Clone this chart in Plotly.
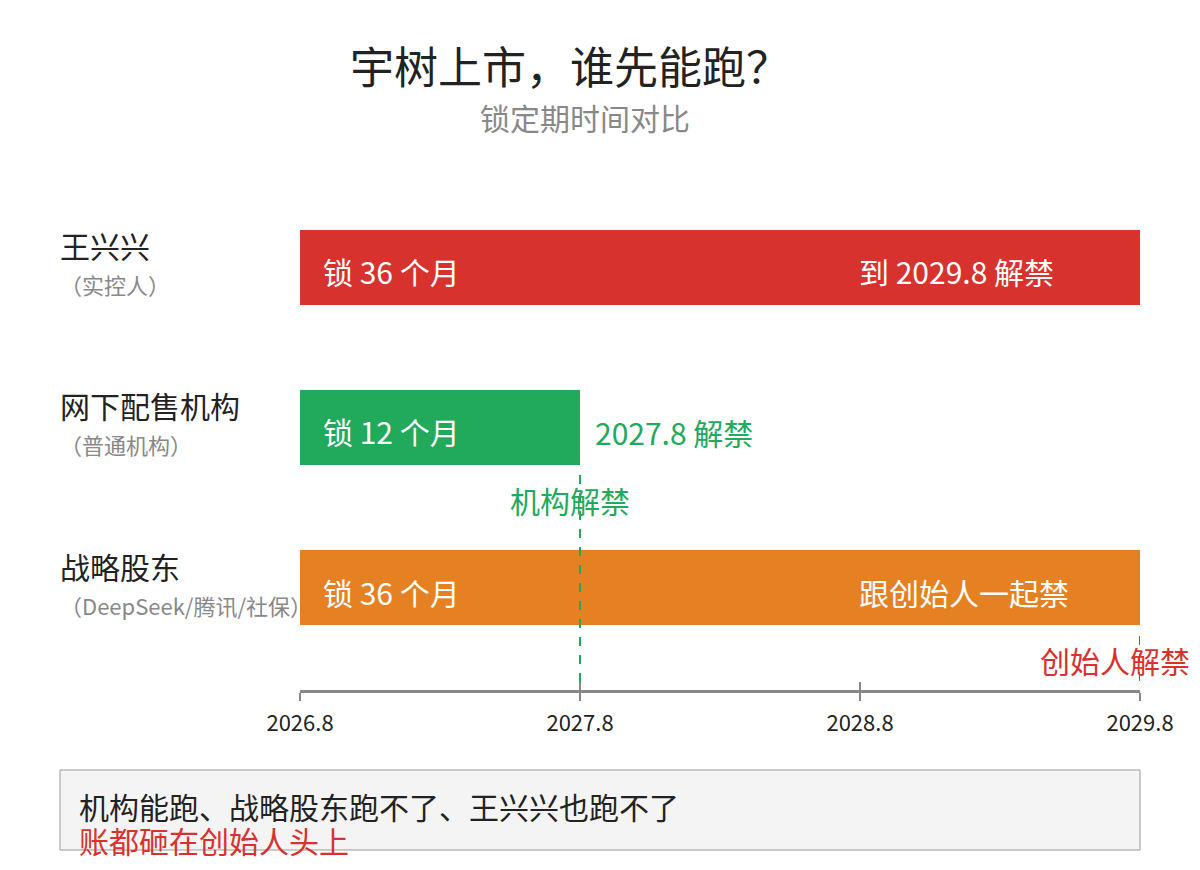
import plotly.graph_objects as go

# ---- data ----
groups = ["王兴兴", "网下配售机构", "战略股东"]
group_notes = ["（实控人）", "（普通机构）", "（DeepSeek/腾讯/社保）"]
lock_months = [36, 12, 36]
bar_left_text = ["锁 36 个月", "锁 12 个月", "锁 36 个月"]
bar_right_text = ["到 2029.8 解禁", "2027.8 解禁", "跟创始人一起禁"]
bar_colors = ["#d7322d", "#21a95c", "#e58123"]
tick_vals = [0, 12, 24, 36]
tick_text = ["2026.8", "2027.8", "2028.8", "2029.8"]
marker_months = [12, 36]
marker_labels = ["机构解禁", "创始人解禁"]
marker_colors = ["#21a95c", "#d7322d"]
title = "宇树上市，谁先能跑？"
subtitle = "锁定期时间对比"
note_line1 = "机构能跑、战略股东跑不了、王兴兴也跑不了"
note_line2 = "账都砸在创始人头上"

FONT = "Noto Sans CJK SC"
OFF = 8            # page body margin
W, H = 1200 - 2 * OFF, 870 - 2 * OFF


def px(x):
    return (x - OFF) / W


def py(y):
    return 1 - (y - OFF) / H


ys = list(range(len(groups)))

fig = go.Figure()
fig.add_trace(go.Bar(
    x=lock_months, y=ys, base=0, orientation="h",
    marker=dict(color=bar_colors, line=dict(width=0)),
    width=0.47, hoverinfo="skip", showlegend=False,
))
fig.add_trace(go.Scatter(x=[0, 36], y=[0, 0], xaxis="x2", mode="markers",
                         marker=dict(opacity=0), hoverinfo="skip", showlegend=False))

ann = []
shapes = []


def A(**kw):
    kw.setdefault("xanchor", "center")
    kw.setdefault("yanchor", "middle")
    kw.setdefault("showarrow", False)
    ann.append(kw)


A(text=title, x=px(570), y=py(65), xref="paper", yref="paper",
  font=dict(size=44, color="#222222", family=FONT))
A(text=subtitle, x=px(585), y=py(117), xref="paper", yref="paper",
  font=dict(size=30, color="#888888", family=FONT))

for i, g in enumerate(groups):
    A(text=g, x=px(58), xref="paper", y=i, yref="y", yshift=22, xanchor="left",
      font=dict(size=30, color="#222222", family=FONT))
    A(text=group_notes[i], x=px(58), xref="paper", y=i, yref="y", yshift=-17, xanchor="left",
      font=dict(size=22, color="#888888", family=FONT))
    A(text=bar_left_text[i], x=0, xref="x", y=i, yref="y", xshift=21, yshift=-4, xanchor="left",
      font=dict(size=30, color="#ffffff", family=FONT))
    if lock_months[i] >= 24:
        A(text=bar_right_text[i], x=24, xref="x", y=i, yref="y", xshift=-3, yshift=-4,
          xanchor="left", font=dict(size=30, color="#ffffff", family=FONT))
    else:
        A(text=bar_right_text[i], x=lock_months[i], xref="x", y=i, yref="y",
          xshift=13, yshift=-5, xanchor="left",
          font=dict(size=30, color=bar_colors[i], family=FONT))

line_tops = [475, 636]
label_ys = [500, 660]
label_shift = [-10, -25]
for m, lab, col, top, ly, sh in zip(marker_months, marker_labels, marker_colors,
                                    line_tops, label_ys, label_shift):
    shapes.append(dict(type="line", xref="x", yref="paper", x0=m, x1=m,
                       y0=py(top), y1=py(690), line=dict(color=col, width=2, dash="dash"),
                       layer="above"))
    A(text=lab, x=m, xref="x", y=py(ly), yref="paper", xshift=sh,
      font=dict(size=30, color=col, family=FONT))

shapes.append(dict(type="rect", xref="paper", yref="paper", x0=px(60), x1=px(1140),
                   y0=py(770), y1=py(850), fillcolor="#f4f4f4",
                   line=dict(color="#999999", width=1), layer="below"))
A(text=note_line1, x=px(77), y=py(806), xref="paper", yref="paper", xanchor="left",
  font=dict(size=30, color="#222222", family=FONT))
A(text=note_line2, x=px(77), y=py(840), xref="paper", yref="paper", xanchor="left",
  font=dict(size=30, color="#d7322d", family=FONT))

fig.update_layout(
    width=W, height=H, margin=dict(l=0, r=0, t=0, b=0, pad=0, autoexpand=False),
    paper_bgcolor="white", plot_bgcolor="white",
    font=dict(family=FONT),
    bargap=0,
    xaxis=dict(domain=[px(300), px(1140)], range=[0, 36], showgrid=False, zeroline=False,
               showline=True, linecolor="#888888", linewidth=3,
               ticks="outside", ticklen=8, tickwidth=2, tickcolor="#888888",
               tickvals=tick_vals, ticktext=tick_text, ticklabelstandoff=4,
               tickfont=dict(size=22, color="#222222", family=FONT),
               anchor="y", fixedrange=True, automargin=False),
    xaxis2=dict(domain=[px(300), px(1140)], range=[0, 36], overlaying="x",
                anchor="y", side="bottom", showgrid=False, zeroline=False, showline=False,
                ticks="inside", ticklen=8, tickwidth=2, tickcolor="#888888",
                tickvals=tick_vals, showticklabels=False, automargin=False),
    yaxis=dict(domain=[py(690), py(180)], range=[2.64, -0.546], visible=False,
               fixedrange=True, automargin=False),
    annotations=ann, shapes=shapes,
)

fig.write_html("out.html")
